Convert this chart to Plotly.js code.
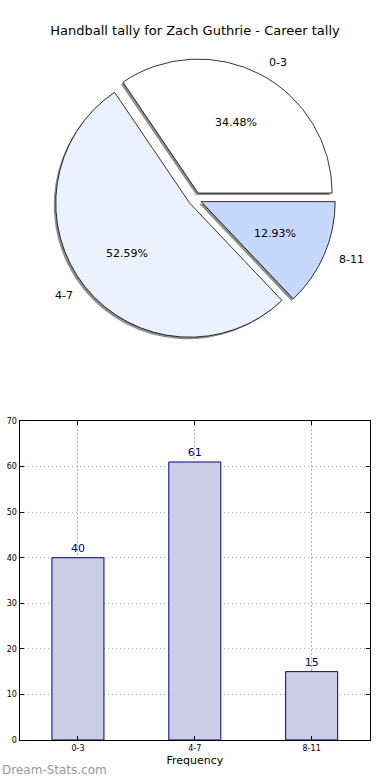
<!DOCTYPE html>
<html>
<head>
<meta charset="utf-8">
<script src="https://cdn.plot.ly/plotly-3.0.1.min.js"></script>
<style>html,body{margin:0;padding:0;background:#fff;}#chart{width:390px;height:780px;}</style>
</head>
<body>
<div id="chart"></div>
<script>
// Data
const categories = ["0-3", "4-7", "8-11"];
const counts = [40, 61, 15];
const sliceColors = ["#ffffff", "#ebf2fe", "#c6d9fd"];
const yTicks = [0, 10, 20, 30, 40, 50, 60, 70];
const chartTitle = "Handball tally for Zach Guthrie - Career tally";
const xAxisTitle = "Frequency";
const watermark = "Dream-Stats.com";

const FONT = "DejaVu Sans, Verdana, sans-serif";
const navy = "#000080";
const W = 390, H = 780;

// first slice starts at 3 o'clock and runs counterclockwise
const total = counts.reduce((a, b) => a + b, 0);
const startRotation = 90 - 360 * counts[0] / total;

// pie geometry (paper fractions)
const pieDomX = [0.1392, 0.8608];
const pieDomY = [0.5645, 0.9253];
const sx = 2 / W, sy = 2 / H;
const pullFrac = 0.05;
const pulls = categories.map(() => pullFrac);

const common = {
  type: "pie", labels: categories, values: counts, sort: false,
  direction: "counterclockwise", rotation: startRotation, pull: pulls,
  showlegend: false, textinfo: "none"
};
const shadow = Object.assign({}, common, {
  marker: {colors: categories.map(() => "#8e8e8e"), line: {width: 0}},
  hoverinfo: "skip",
  domain: {x: [pieDomX[0] - sx, pieDomX[1] - sx], y: [pieDomY[0] - sy, pieDomY[1] - sy]}
});
const pie = Object.assign({}, common, {
  marker: {colors: sliceColors, line: {color: "#000", width: 0.8}},
  hoverinfo: "label+value+percent",
  domain: {x: pieDomX, y: pieDomY}
});
const bars = {
  type: "bar", x: categories, y: counts, xaxis: "x", yaxis: "y",
  width: 0.445,
  marker: {color: "#cccce5", line: {color: navy, width: 1}},
  text: counts.map(String), textposition: "outside", cliponaxis: false,
  textfont: {family: FONT, size: 11, color: navy},
  showlegend: false
};

// matplotlib-style slice annotations: percentages at 0.6 r, labels at 1.1 r
const cxPx = (pieDomX[0] + pieDomX[1]) / 2 * W;
const cyPx = (1 - (pieDomY[0] + pieDomY[1]) / 2) * H;
const rPx = Math.min((pieDomX[1] - pieDomX[0]) * W, (pieDomY[1] - pieDomY[0]) * H) / 2 / (1 + pullFrac);
const annotations = [];
let acc = 0;
counts.forEach((v, i) => {
  const mid = (acc + v / 2) / total * 2 * Math.PI;
  acc += v;
  const ux = Math.cos(mid), uy = Math.sin(mid);
  const ox = cxPx + ux * pullFrac * rPx, oy = cyPx - uy * pullFrac * rPx;
  const pct = (100 * v / total).toFixed(2) + "%";
  annotations.push({
    text: pct, xref: "paper", yref: "paper",
    x: (ox + ux * 0.6 * rPx) / W, y: 1 - (oy - uy * 0.6 * rPx) / H,
    xanchor: "center", yanchor: "middle", showarrow: false,
    font: {family: FONT, size: 11, color: "#000"}
  });
  annotations.push({
    text: categories[i], xref: "paper", yref: "paper",
    x: (ox + ux * 1.1 * rPx) / W, y: 1 - (oy - uy * 1.1 * rPx) / H,
    xanchor: ux >= 0 ? "left" : "right", yanchor: "middle", showarrow: false,
    font: {family: FONT, size: 11, color: "#000"}
  });
});
annotations.push({
  text: watermark, xref: "paper", yref: "paper", x: 0, y: 0,
  xanchor: "left", yanchor: "bottom", showarrow: false, yshift: 1,
  font: {family: FONT, size: 12, color: "#999"}
});

const gridDash = "1.5px,2.5px";
const layout = {
  width: W, height: H,
  margin: {l: 0, r: 0, t: 0, b: 0},
  paper_bgcolor: "#fff", plot_bgcolor: "#fff",
  font: {family: FONT, color: "#000"},
  title: {text: chartTitle, font: {family: FONT, size: 13, color: "#000"},
          x: 0.5, xanchor: "center", y: 1 - 30 / H, yanchor: "middle"},
  xaxis: {
    domain: [0.05, 0.949], range: [-0.5, 2.5], type: "category",
    showline: true, linecolor: "#000", linewidth: 1, mirror: "ticks",
    ticks: "inside", ticklen: 4, tickcolor: "#000",
    showgrid: true, gridcolor: "#b0b0b0", griddash: gridDash, gridwidth: 1,
    tickfont: {family: FONT, size: 8, color: "#000"},
    title: {text: xAxisTitle, font: {family: FONT, size: 11, color: "#000"}, standoff: 4},
    zeroline: false, fixedrange: true
  },
  yaxis: {
    domain: [1 - 740 / H, 1 - 421 / H], range: [0, 70], tickvals: yTicks,
    showline: true, linecolor: "#000", linewidth: 1, mirror: "ticks",
    ticks: "inside", ticklen: 4, tickcolor: "#000",
    showgrid: true, gridcolor: "#b0b0b0", griddash: gridDash, gridwidth: 1,
    tickfont: {family: FONT, size: 8, color: "#000"},
    zeroline: false, fixedrange: true
  },
  annotations: annotations
};

Plotly.newPlot("chart", [shadow, pie, bars], layout, {displayModeBar: false, staticPlot: true});
</script>
</body>
</html>
